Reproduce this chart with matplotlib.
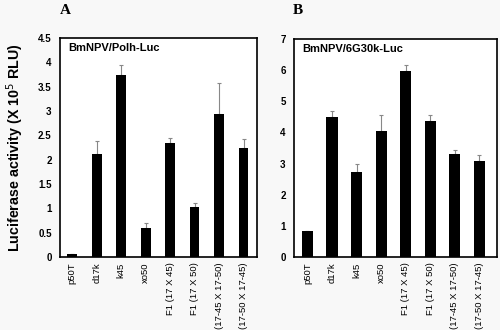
import matplotlib
matplotlib.use("Agg")
import matplotlib.pyplot as plt
import numpy as np

categories = ["p50T", "d17k", "k45", "xo50", "F1 (17 X 45)", "F1 (17 X 50)",
              "(17-45 X 17-50)", "(17-50 X 17-45)"]
a_values = [0.06, 2.12, 3.73, 0.60, 2.34, 1.02, 2.93, 2.24]
a_errors = [0.00, 0.27, 0.21, 0.09, 0.11, 0.09, 0.65, 0.19]
b_values = [0.83, 4.48, 2.73, 4.05, 5.96, 4.37, 3.30, 3.09]
b_errors = [0.02, 0.21, 0.27, 0.52, 0.19, 0.18, 0.12, 0.20]
a_ticks = [0, 0.5, 1, 1.5, 2, 2.5, 3, 3.5, 4, 4.5]
a_ticklabels = ["0", "0.5", "1", "1.5", "2", "2.5", "3", "3.5", "4", "4.5"]
b_ticks = [0, 1, 2, 3, 4, 5, 6, 7]

bg = "#f8f8f8"
fig = plt.figure(figsize=(5, 3.3), dpi=100, facecolor=bg)
W, H = 500, 330

def ax_rect(x0, x1, ytop, ybot):
    return [x0 / W, 1 - ybot / H, (x1 - x0) / W, (ybot - ytop) / H]

axA = fig.add_axes(ax_rect(60, 257, 38, 257))
axB = fig.add_axes(ax_rect(294, 497, 39, 257))

def draw(ax, vals, errs, ticks, ticklabels, ylim, xlim, width, title):
    ax.set_facecolor("white")
    x = np.arange(len(categories))
    ax.bar(x, vals, width=width, color="black", zorder=2)
    ax.errorbar(x, vals, yerr=[np.zeros(len(errs)), errs], fmt="none",
                ecolor="#888888", elinewidth=0.8, capsize=1.5, capthick=0.8, zorder=1)
    ax.set_xlim(*xlim)
    ax.set_ylim(*ylim)
    ax.set_yticks(ticks)
    ax.set_yticklabels(ticklabels, fontsize=7, fontweight="bold", family="Liberation Sans")
    ax.set_xticks(x)
    ax.set_xticklabels(categories, rotation=90, fontsize=6.8, family="Liberation Sans")
    ax.tick_params(axis="both", length=0, pad=6)
    ax.tick_params(axis="x", pad=4)
    for s in ax.spines.values():
        s.set_linewidth(1.2)
    ax.text(0.04, 0.975, title, transform=ax.transAxes, ha="left", va="top",
            fontsize=8, fontweight="bold", family="Liberation Sans")

draw(axA, a_values, a_errors, a_ticks, a_ticklabels, (0, 4.5), (-0.5, 7.55), 0.4,
     "BmNPV/Polh-Luc")
draw(axB, b_values, b_errors, b_ticks, [str(t) for t in b_ticks], (0, 7), (-0.55, 7.73), 0.45,
     "BmNPV/6G30k-Luc")

fig.text(65 / W, 1 - 10 / H, "A", ha="center", va="center", fontsize=11,
         fontweight="bold", family="Liberation Serif")
fig.text(298 / W, 1 - 10 / H, "B", ha="center", va="center", fontsize=11,
         fontweight="bold", family="Liberation Serif")
fig.text(15 / W, 1 - 148 / H, "Luciferase activity (X 10$^5$ RLU)", rotation=90,
         ha="center", va="center", fontsize=10.3, fontweight="bold", family="Liberation Sans")

fig.savefig("out.png", dpi=100, facecolor=bg)
